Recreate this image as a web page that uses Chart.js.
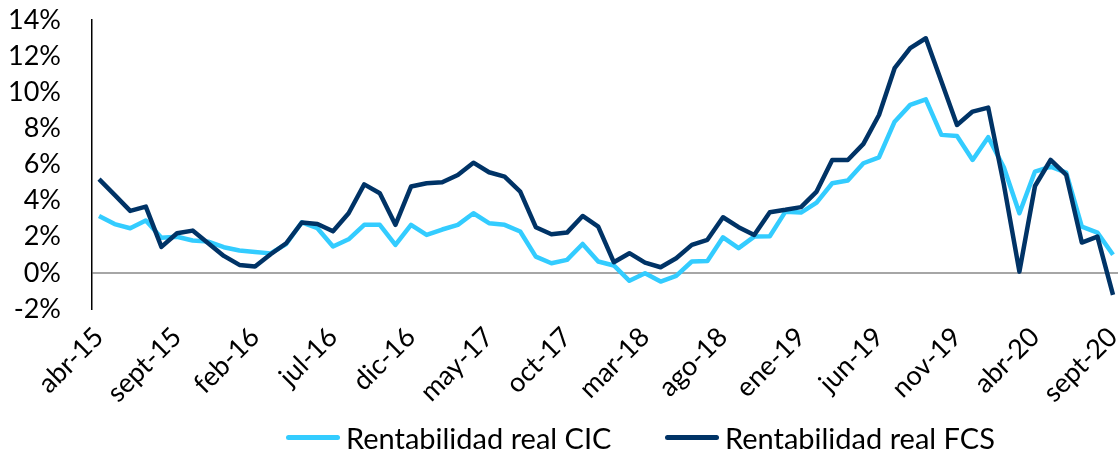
<!DOCTYPE html>
<html><head><meta charset="utf-8">
<script src="https://cdn.jsdelivr.net/npm/chart.js@4.4.0/dist/chart.umd.min.js"></script>
<style>
html,body{margin:0;padding:0;background:#fff;}
#wrap{position:relative;width:1118px;height:454px;overflow:hidden;}
#legend{position:absolute;left:0;top:419px;width:1118px;height:36px;font-family:Lato, sans-serif;font-size:29px;color:#000;}
.item{position:absolute;top:0;height:36px;display:flex;align-items:center;white-space:nowrap;}
.swatch{display:inline-block;width:54px;height:5px;border-radius:3px;margin-right:6px;}
</style></head>
<body><div id="wrap"><canvas id="c" width="1118" height="454"></canvas><div id="legend"></div></div>
<script>
const categories = [
 'abr-15','may-15','jun-15','jul-15','ago-15','sept-15','oct-15','nov-15','dic-15',
 'ene-16','feb-16','mar-16','abr-16','may-16','jun-16','jul-16','ago-16','sept-16','oct-16','nov-16','dic-16',
 'ene-17','feb-17','mar-17','abr-17','may-17','jun-17','jul-17','ago-17','sept-17','oct-17','nov-17','dic-17',
 'ene-18','feb-18','mar-18','abr-18','may-18','jun-18','jul-18','ago-18','sept-18','oct-18','nov-18','dic-18',
 'ene-19','feb-19','mar-19','abr-19','may-19','jun-19','jul-19','ago-19','sept-19','oct-19','nov-19','dic-19',
 'ene-20','feb-20','mar-20','abr-20','may-20','jun-20','jul-20','ago-20','sept-20'
];
const cicValues = [
 3.15,2.7,2.47,2.9,1.95,2.0,1.79,1.73,1.42,1.24,1.16,1.08,1.6,2.8,2.47,1.46,1.86,2.66,2.66,1.55,2.66,
 2.1,2.4,2.66,3.3,2.75,2.66,2.29,0.9,0.53,0.72,1.6,0.63,0.41,-0.44,-0.02,-0.48,-0.17,0.63,0.66,1.97,
 1.37,2.01,2.03,3.39,3.34,3.89,4.96,5.11,6.07,6.4,8.37,9.3,9.61,7.64,7.58,6.25,7.51,5.85,3.3,5.61,
 5.88,5.55,2.56,2.23,1.0
];
const fcsValues = [
 5.19,4.32,3.43,3.67,1.44,2.19,2.34,1.64,0.94,0.44,0.35,1.03,1.64,2.79,2.71,2.3,3.3,4.9,4.41,2.66,4.78,
 4.96,5.02,5.42,6.1,5.57,5.33,4.5,2.53,2.14,2.23,3.15,2.56,0.59,1.09,0.57,0.31,0.81,1.55,1.83,3.08,
 2.53,2.1,3.36,3.49,3.64,4.5,6.25,6.25,7.14,8.74,11.33,12.44,12.99,10.6,8.19,8.93,9.15,4.9,0.07,4.81,
 6.25,5.42,1.68,2.01,-1.22
];
const tickLabels = ['abr-15','sept-15','feb-16','jul-16','dic-16','may-17','oct-17','mar-18','ago-18','ene-19','jun-19','nov-19','abr-20','sept-20'];
const yTicks = [-2,0,2,4,6,8,10,12,14];
const seriesNames = ['Rentabilidad real CIC','Rentabilidad real FCS'];
const seriesColors = ['#33CCFF','#003366'];

const font = {family:'Lato, sans-serif', size:27};
const toPoints = vals => vals.map((v,i)=>({x:i,y:v}));

new Chart(document.getElementById('c'), {
  type:'line',
  data:{
    datasets:[
      {label:seriesNames[0], data:toPoints(cicValues), borderColor:seriesColors[0], backgroundColor:seriesColors[0], borderWidth:4.5, pointRadius:0, tension:0, borderJoinStyle:'round', order:2},
      {label:seriesNames[1], data:toPoints(fcsValues), borderColor:seriesColors[1], backgroundColor:seriesColors[1], borderWidth:4.5, pointRadius:0, tension:0, borderJoinStyle:'round', order:1}
    ]
  },
  options:{
    responsive:false, animation:false,
    layout:{padding:{top:20,left:0,right:0,bottom:0}},
    plugins:{legend:{display:false}, tooltip:{enabled:false}},
    scales:{
      x:{
        type:'linear', min:-0.45, max:categories.length-1+0.32,
        grid:{display:false}, border:{display:false},
        afterBuildTicks: s => { s.ticks = tickLabels.map(l=>({value:categories.indexOf(l)})); },
        afterFit: s => { s.height = 145; s.paddingLeft = 0; s.paddingRight = 0; },
        ticks:{font, color:'#000', maxRotation:45, minRotation:45, padding:4, autoSkip:false,
          callback: v => categories[v]}
      },
      y:{
        min:yTicks[0], max:yTicks[yTicks.length-1],
        afterBuildTicks: s => { s.ticks = yTicks.map(v=>({value:v})); },
        afterFit: s => { s.width = 92; s.paddingTop = 0; s.paddingBottom = 0; },
        grid:{drawTicks:false, color: c => c.tick && c.tick.value===0 ? '#A6A6A6' : 'rgba(0,0,0,0)', lineWidth:2},
        border:{display:true, color:'#000', width:1.5},
        ticks:{font, color:'#000', padding:31, autoSkip:false, callback: v => v + '%'}
      }
    }
  }
});

const legendPos = [286, 665];
const leg = document.getElementById('legend');
seriesNames.forEach((name,i)=>{
  const it = document.createElement('div');
  it.className='item'; it.style.left = legendPos[i]+'px';
  const sw = document.createElement('span'); sw.className='swatch'; sw.style.background=seriesColors[i];
  const tx = document.createElement('span'); tx.textContent = name;
  it.appendChild(sw); it.appendChild(tx); leg.appendChild(it);
});
</script>
</body></html>
